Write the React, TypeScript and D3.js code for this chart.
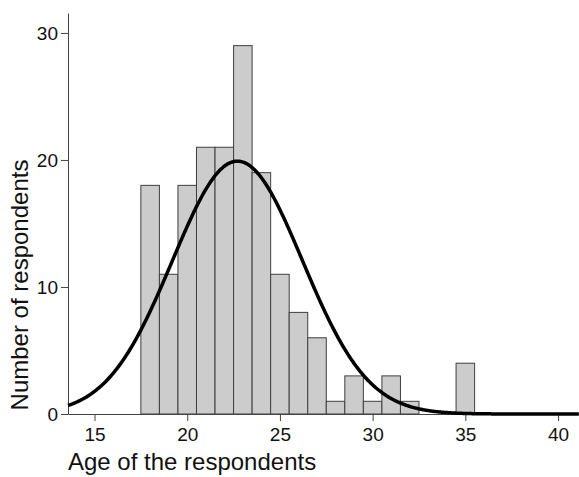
import React, { useEffect, useRef } from "react";
import * as d3 from "d3";

// histogram of respondent ages (1-year bins centred on each age)
const ages = [18, 19, 20, 21, 22, 23, 24, 25, 26, 27, 28, 29, 30, 31, 32, 35];
const counts = [18, 11, 18, 21, 21, 29, 19, 11, 8, 6, 1, 3, 1, 3, 1, 4];
const xTicks = [15, 20, 25, 30, 35, 40];
const yTicks = [0, 10, 20, 30];

const W = 579;
const H = 477;
const FONT = "'Liberation Sans', Arial, Helvetica, sans-serif";

function App() {
  const ref = useRef<SVGGElement>(null);

  useEffect(() => {
    const g = d3.select(ref.current);
    g.selectAll("*").remove();

    const x = d3.scaleLinear().domain([13.57, 41.13]).range([68, 579]);
    const y = d3.scaleLinear().domain([0, 31.57]).range([414, 13]);

    // bars
    g.selectAll("rect.bar")
      .data(ages)
      .enter()
      .append("rect")
      .attr("class", "bar")
      .attr("x", (d) => x(d - 0.5))
      .attr("y", (d, i) => y(counts[i]))
      .attr("width", (d) => x(d + 0.5) - x(d - 0.5))
      .attr("height", (d, i) => y(0) - y(counts[i]))
      .style("fill", "#cccccc")
      .style("stroke", "#3f3f3f")
      .style("stroke-width", 1);

    // normal curve fitted to the data
    const n = d3.sum(counts);
    const mean = d3.sum(ages, (a, i) => a * counts[i]) / n;
    const sd = Math.sqrt(
      d3.sum(ages, (a, i) => counts[i] * (a - mean) * (a - mean)) / (n - 1)
    );
    const dens = (v: number) =>
      (n / (sd * Math.sqrt(2 * Math.PI))) *
      Math.exp(-((v - mean) * (v - mean)) / (2 * sd * sd));
    const pts = d3.range(x.domain()[0], x.domain()[1] + 0.001, 0.05);
    const line = d3
      .line<number>()
      .x((d) => x(d))
      .y((d) => y(dens(d)))
      .curve(d3.curveBasis);

    // axes
    const xa = g
      .append("g")
      .attr("transform", "translate(0,414)")
      .call(d3.axisBottom(x).tickValues(xTicks).tickSize(7).tickSizeOuter(0).tickPadding(7));
    const ya = g
      .append("g")
      .attr("transform", "translate(68,0)")
      .call(d3.axisLeft(y).tickValues(yTicks).tickSize(7).tickSizeOuter(0).tickPadding(3));
    [xa, ya].forEach((a) => {
      a.selectAll("path, line").attr("stroke", "#444").attr("stroke-width", 1);
      a.selectAll("text")
        .attr("fill", "#111")
        .style("font-family", FONT)
        .style("font-size", "19px");
    });

    g.append("path")
      .datum(pts)
      .attr("d", line)
      .attr("fill", "none")
      .attr("stroke", "#000")
      .attr("stroke-width", 3.5);

    // axis titles
    g.append("text")
      .attr("x", 68)
      .attr("y", 470)
      .style("font-family", FONT)
      .style("font-size", "24px")
      .attr("fill", "#111")
      .text("Age of the respondents");
    g.append("text")
      .attr("transform", "translate(28,285) rotate(-90)")
      .attr("text-anchor", "middle")
      .style("font-family", FONT)
      .style("font-size", "24px")
      .attr("fill", "#111")
      .text("Number of respondents");
  }, []);

  return (
    <svg
      width={W}
      height={H}
      style={{ position: "absolute", left: 0, top: 0, background: "#fff" }}
    >
      <g ref={ref} />
    </svg>
  );
}

export default App;
